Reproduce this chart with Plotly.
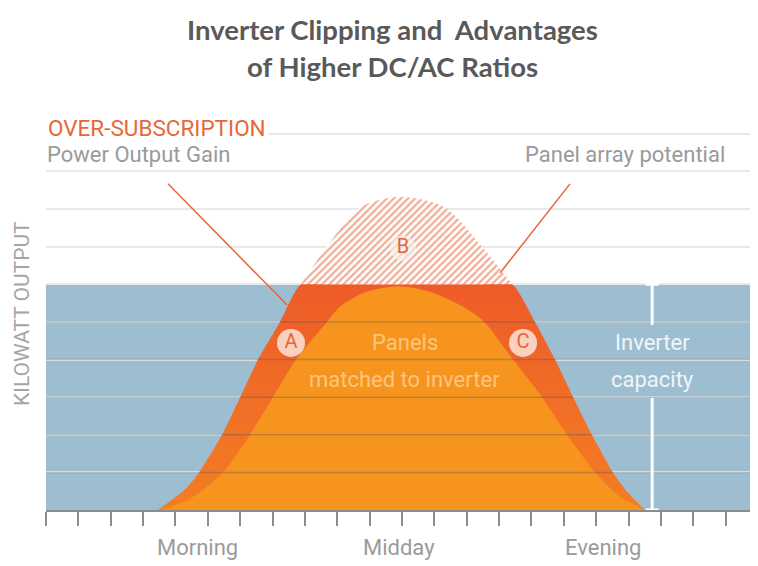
import numpy as np
import plotly.graph_objects as go

# ---------------- data ----------------
inverter_capacity = 6.0

# Panel array potential (DC output), x in time units, y in kW levels
potential_x = [3.46, 3.89, 4.30, 4.73, 5.44, 6.00, 6.55, 7.23, 7.88, 8.68, 9.64, 10.29,
               10.94, 11.68, 12.39, 13.47, 14.40, 15.11, 15.73, 16.29, 16.87, 17.52, 17.99, 18.51]
potential_y = [0.0, 0.27, 0.55, 1.0, 2.0, 3.0, 4.0, 5.0, 6.0, 7.0, 8.0, 8.24,
               8.32, 8.24, 8.0, 7.0, 6.0, 5.0, 4.0, 3.0, 2.0, 1.0, 0.45, 0.0]

# Panels matched to inverter
matched_x = [3.52, 4.45, 5.47, 6.30, 7.01, 7.73, 8.68, 9.08, 9.80, 10.85,
             11.87, 12.89, 13.54, 14.43, 15.33, 16.10, 16.97, 17.74, 18.51]
matched_y = [0.0, 0.3, 1.0, 2.0, 3.0, 4.0, 5.0, 5.4, 5.77, 5.95,
             5.8, 5.4, 5.0, 4.0, 3.0, 2.0, 1.0, 0.35, 0.0]

tick_vals = list(range(0, 22))
time_labels = ["Morning", "Midday", "Evening"]
time_label_x = [4.67, 10.91, 17.21]

markers_text = ["A", "B", "C"]
markers_x = [7.57, 11.03, 14.74]
markers_y = [4.44, 6.96, 4.44]

# ---------------- styling ----------------
BLUE = "#9DBED1"
RED_OR = "#EE5B28"
MID_OR = "#F37D23"
LIGHT_OR = "#F7941D"
LINE_OR = "#E8643A"
HATCH_OR = "#E65A2C"
GRAY_TXT = "#9A9A9A"
FONT = "Roboto"

px_ = np.array(potential_x)
py_ = np.array(potential_y)
clipped_y = np.minimum(py_, inverter_capacity)
above = py_ >= inverter_capacity

fig = go.Figure()

# clipped DC output (over-subscription gain region)
fig.add_trace(go.Scatter(
    x=px_, y=clipped_y, mode="lines", line=dict(width=0, shape="spline", smoothing=0.6),
    fill="tozeroy",
    fillgradient=dict(type="vertical", start=0, stop=inverter_capacity,
                      colorscale=[[0, MID_OR], [0.45, "#F16F26"], [1, RED_OR]]),
    hoverinfo="skip", showlegend=False))

# hatched lost potential (above inverter capacity)
fig.add_trace(go.Scatter(
    x=px_[above], y=np.full(above.sum(), inverter_capacity), mode="lines",
    line=dict(width=0), hoverinfo="skip", showlegend=False))
fig.add_trace(go.Scatter(
    x=px_[above], y=py_[above], mode="lines",
    line=dict(width=0, shape="spline", smoothing=1.0),
    fill="tonexty",
    fillpattern=dict(shape="/", fgcolor=HATCH_OR, bgcolor="white", size=5, solidity=0.45),
    hoverinfo="skip", showlegend=False))

# panels matched to inverter
fig.add_trace(go.Scatter(
    x=matched_x, y=matched_y, mode="lines",
    line=dict(width=0, shape="spline", smoothing=0.8),
    fill="tozeroy", fillcolor=LIGHT_OR, hoverinfo="skip", showlegend=False))

# circle markers A B C
fig.add_trace(go.Scatter(
    x=markers_x, y=markers_y, mode="markers+text", text=markers_text,
    textposition="middle center",
    textfont=dict(family=FONT, size=20, color=LINE_OR),
    marker=dict(size=[28, 26, 28],
                color=["white", "rgba(242,242,242,0.95)", "white"],
                line=dict(width=0)),
    hoverinfo="skip", showlegend=False))

shapes = []
# inverter capacity background
shapes.append(dict(type="rect", xref="paper", x0=0, x1=1, yref="y", y0=0, y1=inverter_capacity,
                   fillcolor=BLUE, line=dict(width=0), layer="between"))
# grid lines inside capacity region (drawn above fills)
for lv in range(1, int(inverter_capacity)):
    shapes.append(dict(type="line", xref="paper", x0=0, x1=1, yref="y", y0=lv, y1=lv,
                       line=dict(color="rgba(70,85,100,0.33)", width=1.5), layer="above"))
# pointer lines
shapes.append(dict(type="line", xref="x", yref="y", x0=3.77, y0=8.67, x1=7.45, y1=5.45,
                   line=dict(color=LINE_OR, width=1.5), layer="above"))
shapes.append(dict(type="line", xref="x", yref="y", x0=16.19, y0=8.67, x1=14.03, y1=6.3,
                   line=dict(color=LINE_OR, width=1.5), layer="above"))
# inverter capacity bracket
bx = 18.73
for (a, b) in [(inverter_capacity, 4.92), (2.98, 0)]:
    shapes.append(dict(type="line", xref="x", yref="y", x0=bx, x1=bx, y0=a, y1=b,
                       line=dict(color="white", width=3), layer="above"))
for yy in [inverter_capacity, 0]:
    shapes.append(dict(type="line", xref="x", yref="y", x0=bx - 0.2, x1=bx + 0.2, y0=yy, y1=yy,
                       line=dict(color="white", width=3), layer="above"))

ann = []
ann.append(dict(text="<b>Inverter Clipping and  Advantages</b>", xref="paper", yref="paper",
                x=0.486, y=1.2152, xanchor="center", yanchor="middle", showarrow=False,
                font=dict(family="Lato", size=27.5, color="#595959")))
ann.append(dict(text="<b>of Higher DC/AC Ratios</b>", xref="paper", yref="paper",
                x=0.486, y=1.124, xanchor="center", yanchor="middle", showarrow=False,
                font=dict(family="Lato", size=27.5, color="#595959")))
ann.append(dict(text="OVER-SUBSCRIPTION", xref="paper", yref="y", x=-0.002, y=10.15,
                xanchor="left", yanchor="middle", showarrow=False, bgcolor="white", borderpad=2,
                font=dict(family=FONT, size=22.5, color="#E8673A")))
ann.append(dict(text="Power Output Gain", xref="paper", yref="y", x=-0.002, y=9.44,
                xanchor="left", yanchor="middle", showarrow=False,
                font=dict(family=FONT, size=22, color=GRAY_TXT)))
ann.append(dict(text="Panel array potential", xref="x", yref="y", x=21.05, y=9.44,
                xanchor="right", yanchor="middle", showarrow=False,
                font=dict(family=FONT, size=22, color=GRAY_TXT)))
ann.append(dict(text="Panels", xref="x", yref="y", x=11.09, y=4.44, showarrow=False,
                font=dict(family=FONT, size=22, color="rgba(255,232,195,0.6)")))
ann.append(dict(text="matched to inverter", xref="x", yref="y", x=11.09, y=3.46, showarrow=False,
                font=dict(family=FONT, size=22, color="rgba(255,232,195,0.6)")))
ann.append(dict(text="Inverter", xref="x", yref="y", x=bx, y=4.44, showarrow=False,
                font=dict(family=FONT, size=22, color="#F1F5F8")))
ann.append(dict(text="capacity", xref="x", yref="y", x=bx, y=3.46, showarrow=False,
                font=dict(family=FONT, size=22, color="#F1F5F8")))
for t, xv in zip(time_labels, time_label_x):
    ann.append(dict(text=t, xref="x", yref="paper", x=xv, y=-0.0937,
                    xanchor="center", yanchor="middle", showarrow=False,
                    font=dict(family=FONT, size=22, color=GRAY_TXT)))
ann.append(dict(text="KILOWATT OUTPUT", xref="paper", yref="y", x=-0.0337, y=5.21,
                xanchor="center", yanchor="middle", textangle=-90, showarrow=False,
                font=dict(family=FONT, size=21, color="#A5A5A5")))

# page body has an 8px margin: size/margins chosen so the plot area lands at
# x 46..758, y 115..510 in the window
fig.update_layout(
    width=750, height=558, autosize=False,
    margin=dict(l=38, r=0, t=107, b=56),
    paper_bgcolor="white", plot_bgcolor="white",
    shapes=shapes, annotations=ann, showlegend=False,
    xaxis=dict(range=[0, 22], tickvals=tick_vals, showticklabels=False,
               ticks="outside", ticklen=14, tickwidth=1.5, tickcolor="#8C8C8C",
               showline=True, linecolor="#8C8C8C", linewidth=1.5,
               showgrid=False, zeroline=False, fixedrange=True),
    yaxis=dict(range=[0, 10.5], dtick=1, showticklabels=False, ticks="",
               showgrid=True, gridcolor="#E9E9E9", gridwidth=1.5,
               zeroline=False, showline=False, fixedrange=True),
)

fig.write_html("out.html")
